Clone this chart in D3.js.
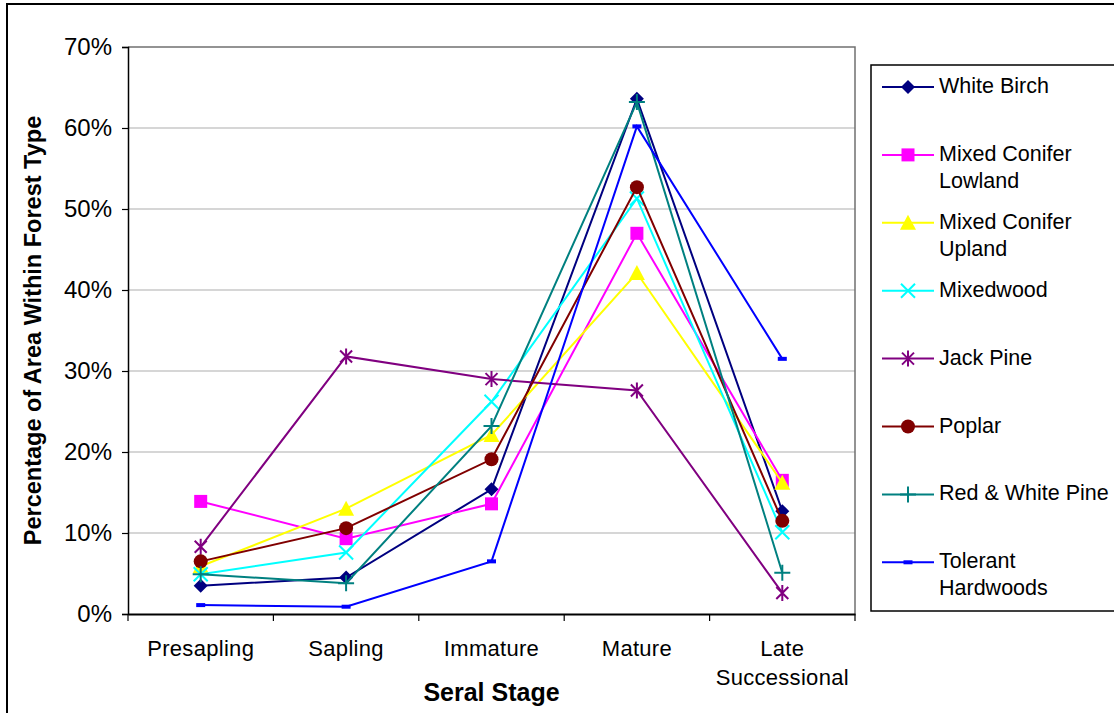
<!DOCTYPE html>
<html>
<head>
<meta charset="utf-8">
<script src="https://cdn.jsdelivr.net/npm/d3@7"></script>
<style>
  html, body { margin: 0; padding: 0; background: #fff; }
  svg { display: block; font-family: "Liberation Sans", Arial, sans-serif; }
</style>
</head>
<body>
<svg id="chart" width="1114" height="713"></svg>
<script>
// ---- data ----
const categories = ["Presapling", "Sapling", "Immature", "Mature", "Late Successional"];
const seriesNames = ["White Birch", "Mixed Conifer Lowland", "Mixed Conifer Upland", "Mixedwood",
                     "Jack Pine", "Poplar", "Red & White Pine", "Tolerant Hardwoods"];
const whiteBirch        = [0.035, 0.045, 0.154, 0.636, 0.127];
const mixedConiferLow   = [0.139, 0.093, 0.136, 0.470, 0.165];
const mixedConiferUp    = [0.059, 0.130, 0.221, 0.421, 0.162];
const mixedwood         = [0.049, 0.076, 0.262, 0.513, 0.101];
const jackPine          = [0.083, 0.318, 0.290, 0.276, 0.026];
const poplar            = [0.065, 0.106, 0.191, 0.527, 0.115];
const redWhitePine      = [0.049, 0.038, 0.232, 0.632, 0.051];
const tolerantHardwoods = [0.011, 0.009, 0.065, 0.602, 0.315];
const yTicks = [0, 0.1, 0.2, 0.3, 0.4, 0.5, 0.6, 0.7];

const seriesValues = [whiteBirch, mixedConiferLow, mixedConiferUp, mixedwood,
                      jackPine, poplar, redWhitePine, tolerantHardwoods];
const colors = ["#000080", "#FF00FF", "#FFFF00", "#00FFFF", "#800080", "#800000", "#008080", "#0000FF"];
const markers = ["diamond", "square", "triangle", "x", "asterisk", "circle", "plus", "dash"];

// ---- layout ----
const svg = d3.select("#chart");
const L = 128, T = 47, R = 855, B = 614;

const x = d3.scaleBand().domain(categories).range([L, R]).padding(0);
const y = d3.scaleLinear().domain([0, 0.7]).range([B, T]);

// outer chart border
svg.append("rect").attr("x", 7).attr("y", 4).attr("width", 1120).attr("height", 720)
  .attr("fill", "none").attr("stroke", "#000").attr("stroke-width", 2);

// gridlines
svg.append("g").selectAll("line").data(yTicks.filter(d => d > 0 && d < 0.7)).join("line")
  .attr("x1", L).attr("x2", R).attr("y1", d => y(d)).attr("y2", d => y(d))
  .attr("stroke", "#c8c8c8").attr("stroke-width", 1.5);

// plot area border top/right
svg.append("path").attr("d", `M${L},${T}H${R}V${B}`).attr("fill", "none")
  .attr("stroke", "#707070").attr("stroke-width", 1.5);

// y axis
const yAxis = d3.axisLeft(y).tickValues(yTicks).tickFormat(d3.format(".0%")).tickSize(6).tickPadding(10);
const gy = svg.append("g").attr("transform", `translate(${L},0)`).call(yAxis);
gy.select(".domain").attr("stroke", "#000").attr("stroke-width", 1.5);
gy.selectAll(".tick line").attr("stroke", "#000").attr("stroke-width", 1.2);
gy.selectAll(".tick text").attr("font-size", 24).attr("fill", "#000")
  .attr("font-family", "Liberation Sans, Arial, sans-serif");

// x axis
const xAxis = d3.axisBottom(x).tickSize(0).tickFormat("");
const gx = svg.append("g").attr("transform", `translate(0,${B})`).call(xAxis);
gx.select(".domain").attr("stroke", "#000").attr("stroke-width", 2.2);
// tick marks on band boundaries
const bounds = categories.map(c => x(c)).concat([x(categories[categories.length - 1]) + x.bandwidth()]);
gx.selectAll(".bound").data(bounds).join("line").attr("class", "bound")
  .attr("x1", d => d).attr("x2", d => d).attr("y1", 0).attr("y2", 7)
  .attr("stroke", "#000").attr("stroke-width", 1.2);
// category labels (wrap "Late Successional")
const xl = svg.append("g");
categories.forEach(c => {
  const words = c.split(" ");
  const lines = c === "Late Successional" ? words : [c];
  const t = xl.append("text").attr("x", x(c) + x.bandwidth() / 2).attr("y", 656)
    .attr("text-anchor", "middle").attr("font-size", 22).attr("letter-spacing", 0.3).attr("fill", "#000");
  lines.forEach((ln, i) => t.append("tspan").attr("x", x(c) + x.bandwidth() / 2)
    .attr("dy", i === 0 ? 0 : 29).text(ln));
});

// axis titles
svg.append("text").attr("x", (L + R) / 2).attr("y", 701).attr("text-anchor", "middle")
  .attr("font-size", 25).attr("font-weight", "bold").text("Seral Stage");
svg.append("text").attr("transform", `translate(41,${(T + B) / 2}) rotate(-90)`)
  .attr("text-anchor", "middle").attr("font-size", 23.5).attr("font-weight", "bold")
  .text("Percentage of Area Within Forest Type");

// ---- markers ----
function drawMarker(g, type, color, cx, cy) {
  const s = 7;
  if (type === "diamond") {
    g.append("path").attr("d", `M${cx},${cy - s}L${cx + s},${cy}L${cx},${cy + s}L${cx - s},${cy}Z`)
      .attr("fill", color);
  } else if (type === "square") {
    g.append("rect").attr("x", cx - 6.5).attr("y", cy - 6.5).attr("width", 13).attr("height", 13)
      .attr("fill", color);
  } else if (type === "triangle") {
    g.append("path").attr("d", `M${cx},${cy - 8}L${cx + 8},${cy + 7}L${cx - 8},${cy + 7}Z`)
      .attr("fill", color);
  } else if (type === "circle") {
    g.append("circle").attr("cx", cx).attr("cy", cy).attr("r", 7).attr("fill", color);
  } else if (type === "x") {
    g.append("path").attr("d", `M${cx - 7},${cy - 7}L${cx + 7},${cy + 7}M${cx + 7},${cy - 7}L${cx - 7},${cy + 7}`)
      .attr("stroke", color).attr("stroke-width", 2);
  } else if (type === "asterisk") {
    g.append("path").attr("d", `M${cx - 6},${cy - 6}L${cx + 6},${cy + 6}M${cx + 6},${cy - 6}L${cx - 6},${cy + 6}M${cx},${cy - 8}V${cy + 8}`)
      .attr("stroke", color).attr("stroke-width", 2);
  } else if (type === "plus") {
    g.append("path").attr("d", `M${cx - 8},${cy}H${cx + 8}M${cx},${cy - 8}V${cy + 8}`)
      .attr("stroke", color).attr("stroke-width", 2);
  } else if (type === "dash") {
    g.append("rect").attr("x", cx - 4.5).attr("y", cy - 2).attr("width", 9).attr("height", 4)
      .attr("fill", color);
  }
}

// ---- series ----
const line = d3.line().x((d, i) => x(categories[i]) + x.bandwidth() / 2).y(d => y(d));
seriesValues.forEach((vals, si) => {
  const g = svg.append("g");
  g.append("path").attr("d", line(vals)).attr("fill", "none")
    .attr("stroke", colors[si]).attr("stroke-width", 2);
  vals.forEach((v, i) => drawMarker(g, markers[si], colors[si], x(categories[i]) + x.bandwidth() / 2, y(v)));
});

// ---- legend ----
const lg = svg.append("g");
lg.append("rect").attr("x", 871).attr("y", 65).attr("width", 300).attr("height", 546)
  .attr("fill", "#fff").attr("stroke", "#000").attr("stroke-width", 1.5);
seriesNames.forEach((name, i) => {
  const ly = 87 + i * 67.9;
  lg.append("line").attr("x1", 882).attr("x2", 934).attr("y1", ly).attr("y2", ly)
    .attr("stroke", colors[i]).attr("stroke-width", 2);
  drawMarker(lg, markers[i], colors[i], 908, ly);
  const t = lg.append("text").attr("x", 939).attr("y", ly + 6).attr("font-size", 21.5).attr("fill", "#000");
  // word wrap at legend text width
  const words = name.split(" ");
  let lines = [], cur = "";
  const probe = lg.append("text").attr("font-size", 21.5).attr("visibility", "hidden");
  words.forEach(w => {
    const test = cur ? cur + " " + w : w;
    probe.text(test);
    if (probe.node().getComputedTextLength() > 180 && cur) { lines.push(cur); cur = w; }
    else cur = test;
  });
  lines.push(cur);
  probe.remove();
  lines.forEach((ln, k) => t.append("tspan").attr("x", 939).attr("dy", k === 0 ? 0 : 27).text(ln));
});
</script>
</body>
</html>
